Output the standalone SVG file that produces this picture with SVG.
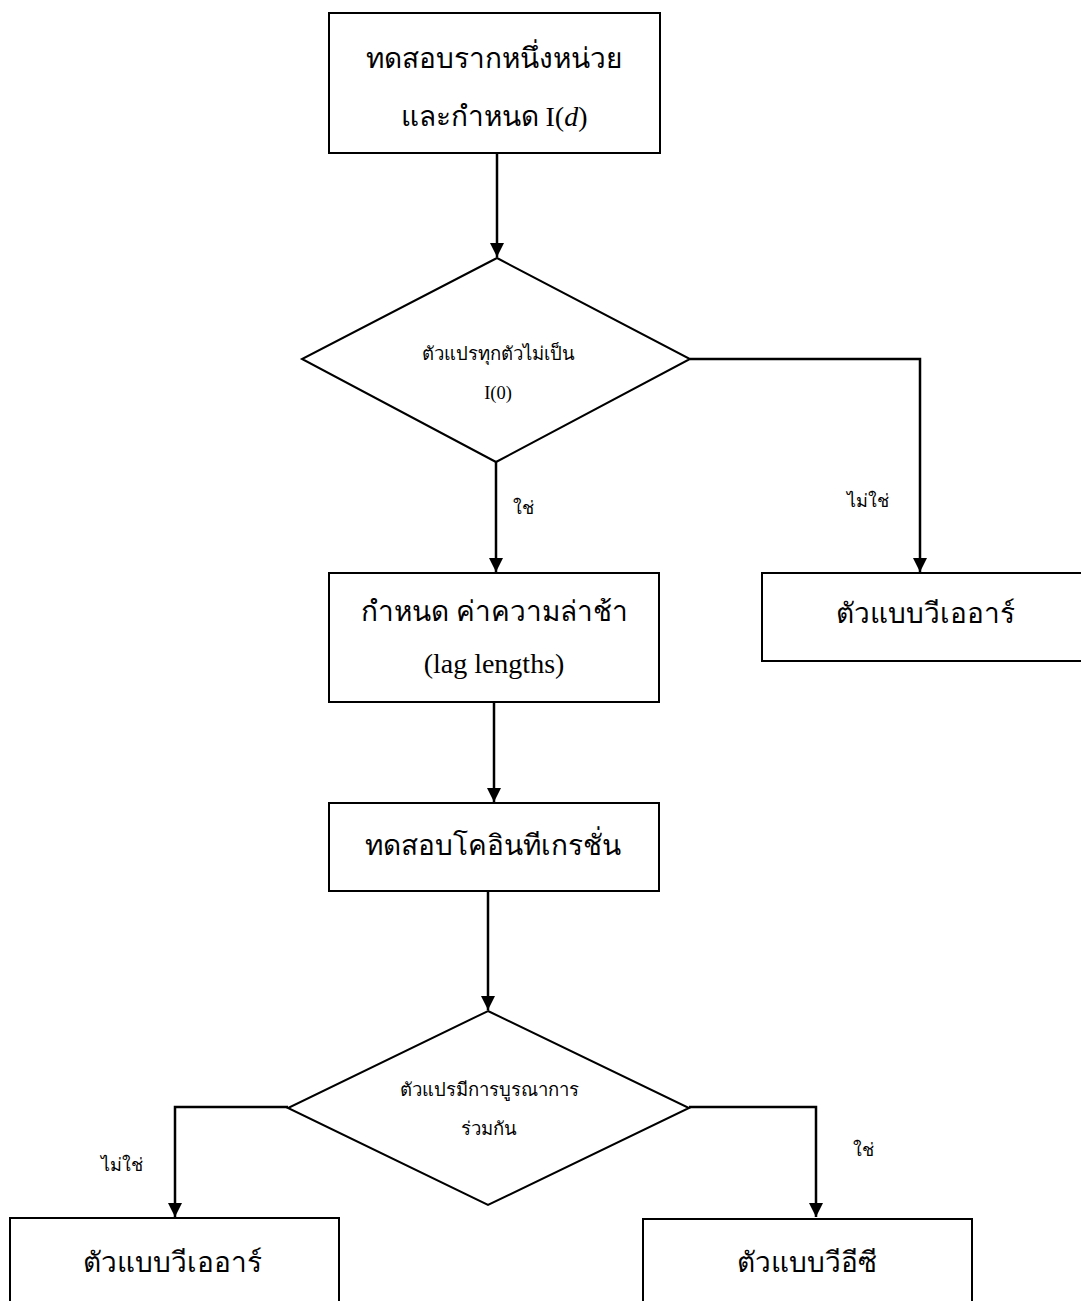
<svg xmlns="http://www.w3.org/2000/svg" width="1081" height="1301" viewBox="0 0 1081 1301">
<defs>
<marker id="arr" viewBox="0 0 10 10" refX="10" refY="5" markerWidth="14" markerHeight="14" markerUnits="userSpaceOnUse" orient="auto">
<path d="M0,0 L10,5 L0,10 z" fill="#000"/>
</marker>
<style>
.box{fill:#fff;stroke:#000;stroke-width:2}
.con{fill:none;stroke:#000;stroke-width:2.5}
.t{font-family:"Liberation Serif","Noto Sans","DejaVu Serif",serif;fill:#000;text-anchor:middle}
.big{font-size:28px}
.sm{font-size:18.5px}
.lbl{font-size:18px}
</style>
</defs>
<rect width="1081" height="1301" fill="#fff"/>
<g id="connectors">
<path class="con" d="M497,153 L497,257" marker-end="url(#arr)"/>
<path class="con" d="M496,462 L496,572" marker-end="url(#arr)"/>
<path class="con" d="M690,359 L920,359 L920,572" marker-end="url(#arr)"/>
<path class="con" d="M494,702 L494,802" marker-end="url(#arr)"/>
<path class="con" d="M488,891 L488,1010" marker-end="url(#arr)"/>
<path class="con" d="M288,1107 L175,1107 L175,1217" marker-end="url(#arr)"/>
<path class="con" d="M689,1107 L816,1107 L816,1217" marker-end="url(#arr)"/>
<text class="t lbl" x="523" y="514">ใช่</text>
<text class="t lbl" x="868" y="507">ไม่ใช่</text>
<text class="t lbl" x="122" y="1171">ไม่ใช่</text>
<text class="t lbl" x="863" y="1156">ใช่</text>
</g>
<g id="n1">
<rect class="box" x="329" y="13" width="331" height="140"/>
<text class="t big" x="494" y="68">ทดสอบรากหนึ่งหน่วย</text>
<text class="t big" x="494" y="126">และกำหนด I(<tspan font-style="italic">d</tspan>)</text>
</g>
<g id="n2">
<path class="box" d="M497,258 L690,359 L496,462 L302,359 Z"/>
<text class="t sm" x="498" y="360">ตัวแปรทุกตัวไม่เป็น</text>
<text class="t sm" x="498" y="399">I(0)</text>
</g>
<g id="n3">
<rect class="box" x="762" y="573" width="330" height="88"/>
<text class="t big" x="925" y="623">ตัวแบบวีเออาร์</text>
</g>
<g id="n4">
<rect class="box" x="329" y="573" width="330" height="129"/>
<text class="t big" x="494" y="621">กำหนด ค่าความล่าช้า</text>
<text class="t big" x="494" y="673">(lag lengths)</text>
</g>
<g id="n5">
<rect class="box" x="329" y="803" width="330" height="88"/>
<text class="t big" x="493" y="855">ทดสอบโคอินทีเกรชั่น</text>
</g>
<g id="n6">
<path class="box" d="M488,1011 L689,1108 L488,1205 L288,1108 Z"/>
<text class="t sm" x="489" y="1096">ตัวแปรมีการบูรณาการ</text>
<text class="t sm" x="489" y="1135">ร่วมกัน</text>
</g>
<g id="n7">
<rect class="box" x="10" y="1218" width="329" height="100"/>
<text class="t big" x="172" y="1272">ตัวแบบวีเออาร์</text>
</g>
<g id="n8">
<rect class="box" x="643" y="1219" width="329" height="100"/>
<text class="t big" x="807" y="1272">ตัวแบบวีอีซี</text>
</g>
</svg>
